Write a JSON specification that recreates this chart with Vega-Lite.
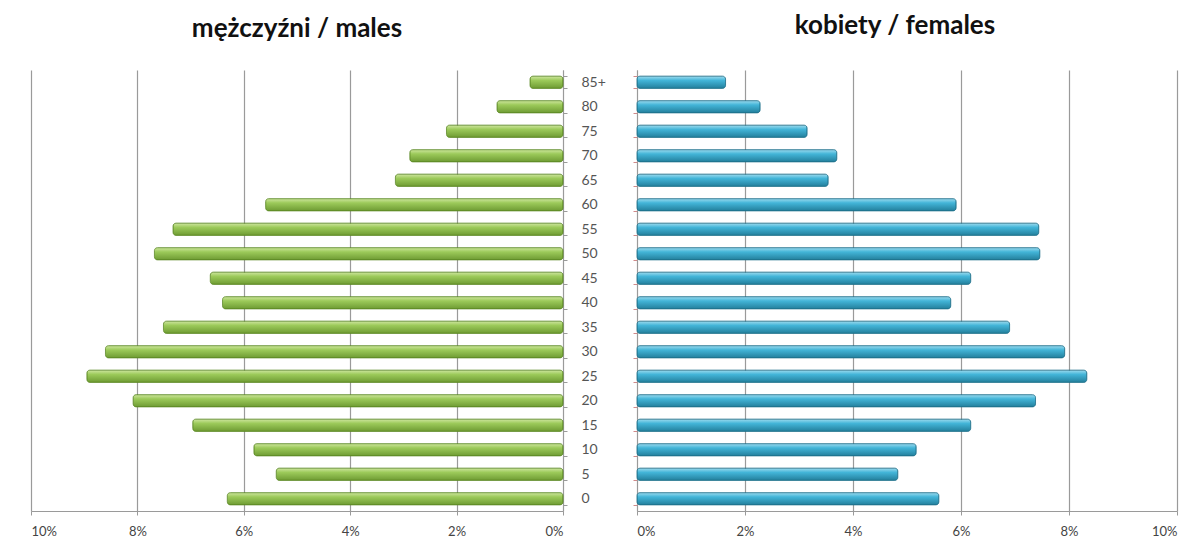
{
  "$schema": "https://vega.github.io/schema/vega-lite/v6.json",
  "background": "white",
  "padding": {"left": 30, "top": 13, "right": 2, "bottom": 2},
  "config": {
    "view": {"stroke": null},
    "font": "Lato",
    "title": {"font": "Lato", "fontSize": 26, "fontWeight": "bold", "color": "#111111", "baseline": "alphabetic", "offset": 33},
    "axis": {"labelFont": "Lato", "labelColor": "#444444", "labelFontSize": 13, "domainColor": "#9a9a9a", "tickColor": "#9a9a9a", "gridColor": "#9a9a9a", "gridWidth": 1.2, "title": null}
  },
  "datasets": {
    "males": [
      {"age": "85+", "pct": 0.0062},
      {"age": "80", "pct": 0.0124},
      {"age": "75", "pct": 0.0219},
      {"age": "70", "pct": 0.0288},
      {"age": "65", "pct": 0.0315},
      {"age": "60", "pct": 0.0559},
      {"age": "55", "pct": 0.0733},
      {"age": "50", "pct": 0.0768},
      {"age": "45", "pct": 0.0663},
      {"age": "40", "pct": 0.0640},
      {"age": "35", "pct": 0.0751},
      {"age": "30", "pct": 0.0860},
      {"age": "25", "pct": 0.0895},
      {"age": "20", "pct": 0.0808},
      {"age": "15", "pct": 0.0696},
      {"age": "10", "pct": 0.0581},
      {"age": "5", "pct": 0.0539},
      {"age": "0", "pct": 0.0631}
    ],
    "females": [
      {"age": "85+", "pct": 0.0164},
      {"age": "80", "pct": 0.0228},
      {"age": "75", "pct": 0.0315},
      {"age": "70", "pct": 0.0370},
      {"age": "65", "pct": 0.0354},
      {"age": "60", "pct": 0.0591},
      {"age": "55", "pct": 0.0744},
      {"age": "50", "pct": 0.0746},
      {"age": "45", "pct": 0.0618},
      {"age": "40", "pct": 0.0581},
      {"age": "35", "pct": 0.0690},
      {"age": "30", "pct": 0.0792},
      {"age": "25", "pct": 0.0833},
      {"age": "20", "pct": 0.0738},
      {"age": "15", "pct": 0.0618},
      {"age": "10", "pct": 0.0517},
      {"age": "5", "pct": 0.0483},
      {"age": "0", "pct": 0.0559}
    ]
  },
  "spacing": 74,
  "bounds": "flush",
  "hconcat": [
    {
      "title": {"text": "mężczyźni / males", "anchor": "middle", "dy": 12},
      "width": 532,
      "height": 441,
      "data": {"name": "males"},
      "mark": {
        "type": "bar",
        "cornerRadius": 3,
        "stroke": "#5d8a26",
        "strokeWidth": 0.8,
        "color": {"gradient": "linear", "x1": 0, "y1": 0, "x2": 0, "y2": 1, "stops": [{"offset": 0, "color": "#cfe6a0"}, {"offset": 0.35, "color": "#9cca5a"}, {"offset": 1, "color": "#6e9b33"}]}
      },
      "encoding": {
        "y": {
          "field": "age", "type": "nominal",
          "scale": {"domain": ["85+","80","75","70","65","60","55","50","45","40","35","30","25","20","15","10","5","0"], "paddingInner": 0.5, "paddingOuter": 0.25},
          "axis": {"orient": "right", "tickBand": "extent", "tickSize": 4, "labelPadding": 14, "labelAlign": "left", "labelFontSize": 14, "labelColor": "#555555", "grid": false}
        },
        "x": {
          "field": "pct", "type": "quantitative",
          "scale": {"domain": [0, 0.1], "reverse": true, "nice": false},
          "axis": {"values": [0, 0.02, 0.04, 0.06, 0.08, 0.1], "format": ".0%", "grid": true, "tickSize": 4, "labelPadding": 10}
        }
      }
    },
    {
      "title": {"text": "kobiety / females", "anchor": "middle", "dx": -12, "dy": 2},
      "width": 540,
      "height": 441,
      "data": {"name": "females"},
      "mark": {
        "type": "bar",
        "cornerRadius": 3,
        "stroke": "#1f718b",
        "strokeWidth": 0.8,
        "color": {"gradient": "linear", "x1": 0, "y1": 0, "x2": 0, "y2": 1, "stops": [{"offset": 0, "color": "#9fdcef"}, {"offset": 0.35, "color": "#43b5d8"}, {"offset": 1, "color": "#237f9c"}]}
      },
      "encoding": {
        "y": {
          "field": "age", "type": "nominal",
          "scale": {"domain": ["85+","80","75","70","65","60","55","50","45","40","35","30","25","20","15","10","5","0"], "paddingInner": 0.5, "paddingOuter": 0.25},
          "axis": {"orient": "left", "tickBand": "extent", "tickSize": 4, "labels": false, "tickColor": "#d08a8a", "grid": false}
        },
        "x": {
          "field": "pct", "type": "quantitative",
          "scale": {"domain": [0, 0.1], "nice": false},
          "axis": {"values": [0, 0.02, 0.04, 0.06, 0.08, 0.1], "format": ".0%", "grid": true, "tickSize": 4, "labelPadding": 10}
        }
      }
    }
  ]
}
